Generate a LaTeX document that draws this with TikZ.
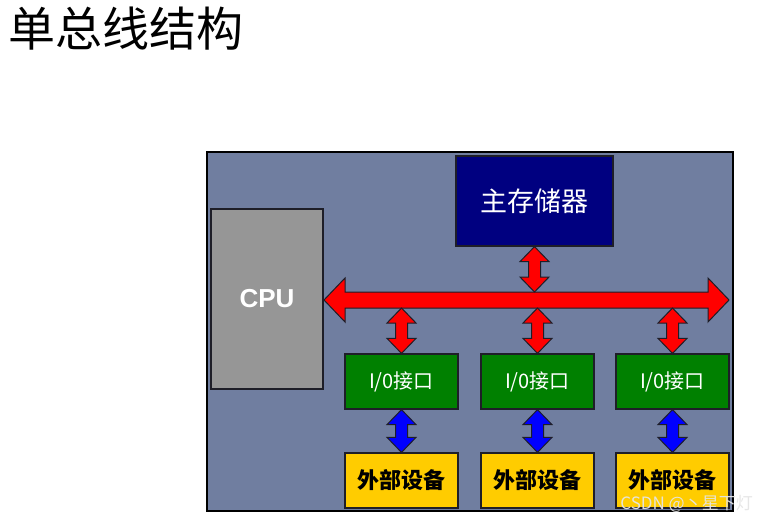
\documentclass[tikz,border=0pt]{standalone}
\usepackage{fontspec}
\setmainfont{Liberation Sans}
\newfontfamily\cjk{Noto Sans CJK SC}
\usetikzlibrary{calc}
\definecolor{bgblue}{RGB}{112,126,160}
\definecolor{cpugray}{RGB}{150,150,150}
\definecolor{memnavy}{RGB}{0,0,128}
\definecolor{iogreen}{RGB}{0,128,0}
\definecolor{devyellow}{RGB}{255,204,0}
\definecolor{edge}{RGB}{30,30,40}
\tikzset{
  box/.style={draw=edge, line width=1.2pt, inner sep=0pt, rectangle},
  membox/.style={box, fill=memnavy, minimum width=157pt, minimum height=90pt,
    text=white, font=\cjk\fontsize{27}{27}\selectfont},
  cpubox/.style={box, fill=cpugray, minimum width=112pt, minimum height=180pt,
    text=white, font=\bfseries\fontsize{26}{26}\selectfont},
  iobox/.style={box, fill=iogreen, minimum width=113pt, minimum height=55pt,
    text=white, font=\cjk\fontsize{20}{20}\selectfont},
  devbox/.style={box, fill=devyellow, minimum width=113pt, minimum height=55pt,
    text=black, font=\cjk\bfseries\fontsize{22}{22}\selectfont},
  fatarrow/.style={draw=edge, line width=1pt, line join=miter},
}
\newcommand{\VArrow}[3]{%
  \filldraw[fatarrow, fill=#3] let \p1=#1, \p2=#2 in
    (\x1,\y1) -- (\x1+14.5pt,\y1-15pt) -- (\x1+6pt,\y1-15pt) --
    (\x2+6pt,\y2+15pt) -- (\x2+14.5pt,\y2+15pt) -- (\x2,\y2) --
    (\x2-14.5pt,\y2+15pt) -- (\x2-6pt,\y2+15pt) --
    (\x1-6pt,\y1-15pt) -- (\x1-14.5pt,\y1-15pt) -- cycle;
}
\begin{document}
\begin{tikzpicture}[x=1pt, y=-1pt]
\useasboundingbox (0,0) rectangle (768,523);
\fill[white] (0,0) rectangle (768,523);

% title
\node[anchor=west, inner sep=0pt, font=\cjk\fontsize{47}{47}\selectfont] (title) at (8,29) {单总线结构};

% frame
\node[draw=black, line width=1.5pt, fill=bgblue, inner sep=0pt,
      minimum width=526pt, minimum height=359pt] (frame) at (470,331.5) {};

% blocks
\node[membox] (mem) at (534.5,201) {主存储器};
\node[cpubox] (cpu) at (267,299) {CPU};

\node[iobox] (io1) at (401.5,381.5) {I/0接口};
\node[iobox] (io2) at (537.5,381.5) {I/0接口};
\node[iobox] (io3) at (672.5,381.5) {I/0接口};

\node[devbox] (dev1) at (401.5,480.5) {外部设备};
\node[devbox] (dev2) at (537.5,480.5) {外部设备};
\node[devbox] (dev3) at (672.5,480.5) {外部设备};

% bus
\coordinate (busR) at (729,300);
\coordinate (busL) at (324,300);
\coordinate (bustop) at (0,292);
\coordinate (busbot) at (0,308);
\filldraw[fatarrow, fill=red] let \p1=(busL), \p2=(busR) in
  (\x1,\y1) -- (\x1+21pt,\y1+22pt) -- (\x1+21pt,\y1+8pt) --
  (\x2-21pt,\y2+8pt) -- (\x2-21pt,\y2+22pt) -- (\x2,\y2) --
  (\x2-21pt,\y2-22pt) -- (\x2-21pt,\y2-8pt) --
  (\x1+21pt,\y1-8pt) -- (\x1+21pt,\y1-22pt) -- cycle;

% memory <-> bus
\VArrow{(mem.south)}{(mem.south |- bustop)}{red}
% bus <-> io
\VArrow{(io1.north |- busbot)}{(io1.north)}{red}
\VArrow{(io2.north |- busbot)}{(io2.north)}{red}
\VArrow{(io3.north |- busbot)}{(io3.north)}{red}
% io <-> devices
\VArrow{(io1.south)}{(dev1.north)}{blue}
\VArrow{(io2.south)}{(dev2.north)}{blue}
\VArrow{(io3.south)}{(dev3.north)}{blue}

% watermark
\node[anchor=east, inner sep=0pt, text=white!80!gray, opacity=0.95,
      font=\cjk\fontsize{17}{17}\selectfont] (wm) at (753,504) {CSDN @丶星下灯};
\end{tikzpicture}
\end{document}
